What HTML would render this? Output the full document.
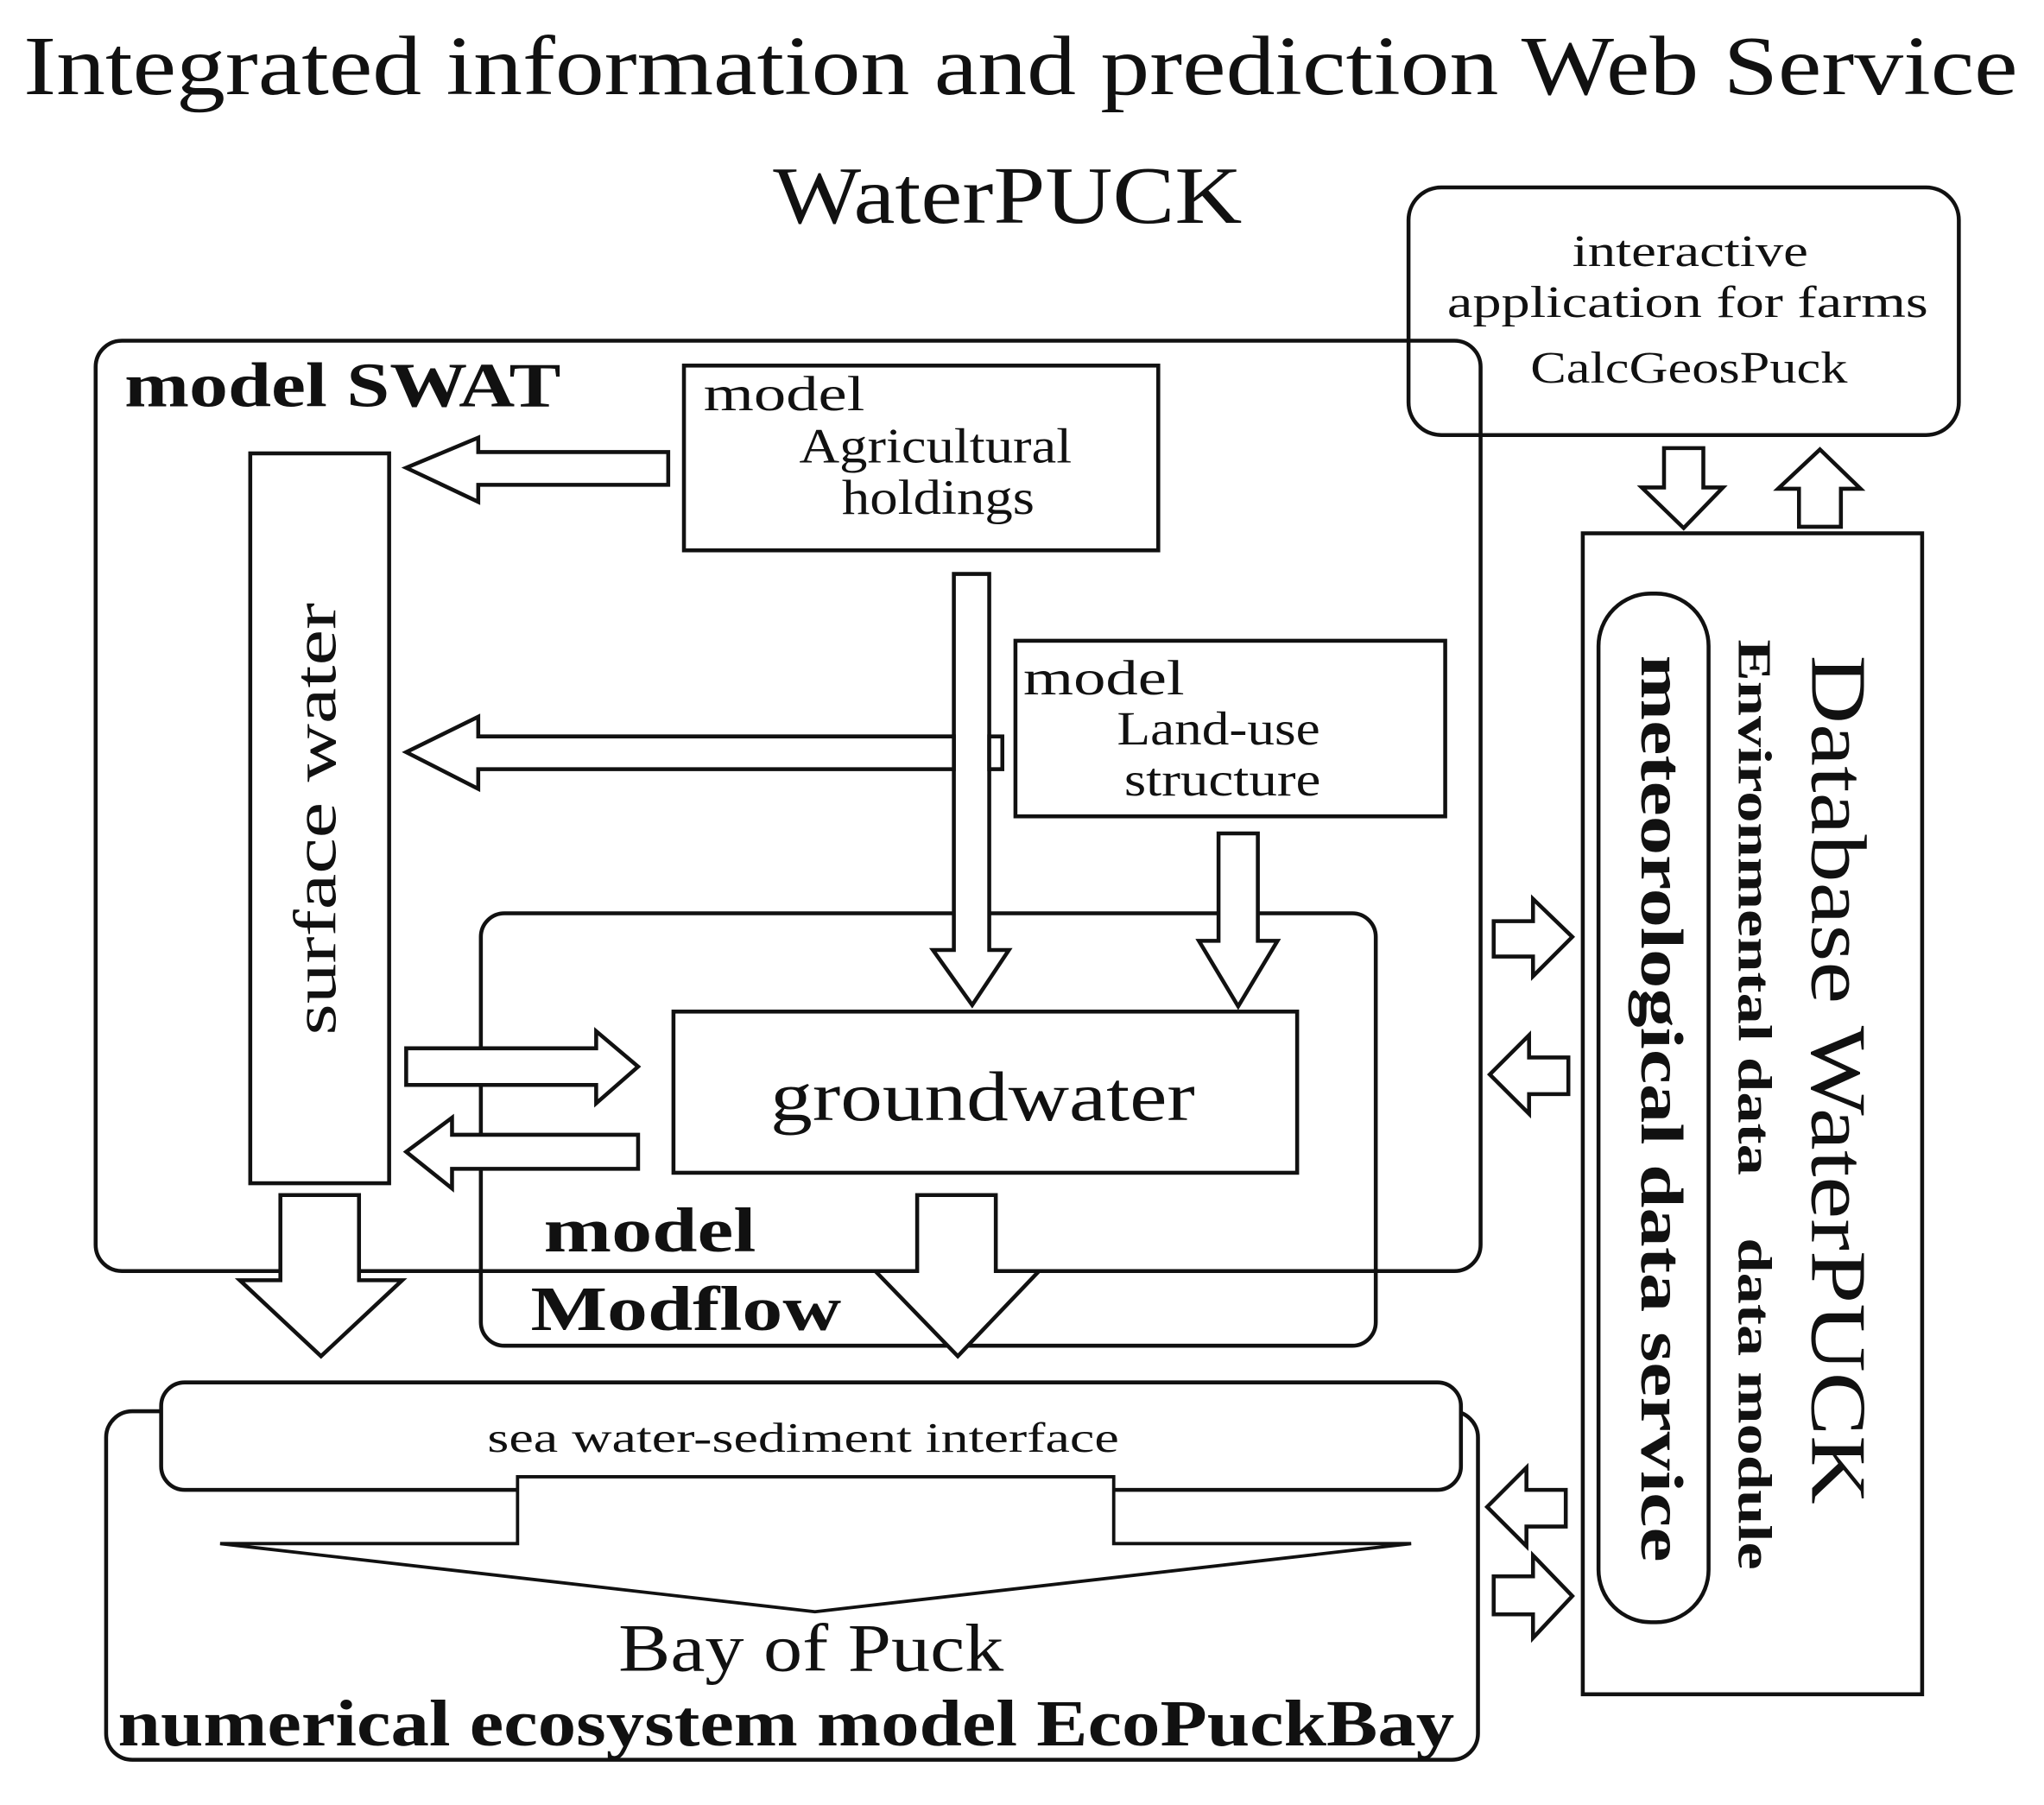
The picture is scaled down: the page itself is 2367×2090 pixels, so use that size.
<!DOCTYPE html>
<html><head><meta charset="utf-8"><style>
html,body{margin:0;padding:0;background:#fff}
svg{display:block}
text{font-family:"Liberation Serif",serif;fill:#111}
</style></head><body>
<svg width="2367" height="2090" viewBox="0 0 1560 1377.5" preserveAspectRatio="none" xmlns="http://www.w3.org/2000/svg">
<g fill="#fff" stroke="#111" stroke-width="3" stroke-linejoin="miter">
<rect x="73" y="260" width="1057" height="710" rx="20"/>
<rect x="1075" y="143" width="420" height="189" rx="25" fill="none"/>
<rect x="522" y="279" width="362" height="141"/>
<rect x="191" y="346" width="106" height="557"/>
<rect x="775" y="489" width="328" height="134"/>
<rect x="367" y="697" width="683" height="330" rx="18" fill="none"/>
<rect x="514" y="772" width="476" height="123"/>
<rect x="81" y="1077" width="1047" height="266" rx="20"/>
<rect x="123" y="1055" width="992" height="82" rx="18"/>
<rect x="1208" y="407" width="259" height="886"/>
<rect x="1220" y="453" width="84" height="785" rx="40"/>
<polygon points="510,345 365,345 365,334 310,357 365,383 365,370 510,370"/>
<polygon points="728,438 755,438 755,725 770,725 742,767 712,725 728,725"/>
<rect x="755" y="562" width="10" height="25"/>
<polygon points="728,562 365,562 365,547 310,574 365,602 365,587 728,587"/>
<polygon points="930,636 960,636 960,718 975,718 945,768 915,718 930,718"/>
<polygon points="310,800 455,800 455,787 487,814 455,842 455,828 310,828"/>
<polygon points="487,866 345,866 345,853 310,879 345,907 345,892 487,892"/>
<polygon points="214,912 274,912 274,977 307,977 245,1035 183,977 214,977"/>
<polygon points="700,912 760,912 760,970 793,970 731,1035 668,970 700,970"/>
<polygon points="395,1127 850,1127 850,1178 1077,1178 622,1230 168,1178 395,1178" stroke-width="2.5"/>
<polygon points="1270,342 1300,342 1300,372 1315,372 1285,403 1253,372 1270,372"/>
<polygon points="1373,402 1405,402 1405,373 1420,373 1389,343 1357,373 1373,373"/>
<polygon points="1140,703 1170,703 1170,686 1200,715 1170,745 1170,730 1140,730"/>
<polygon points="1197,807 1167,807 1167,790 1137,820 1167,850 1167,835 1197,835"/>
<polygon points="1195,1137 1165,1137 1165,1120 1135,1150 1165,1180 1165,1165 1195,1165"/>
<polygon points="1140,1203 1170,1203 1170,1187 1200,1218 1170,1250 1170,1232 1140,1232"/>
</g>
<g lengthAdjust="spacingAndGlyphs">
<text x="779" y="72" font-size="64" text-anchor="middle" textLength="1522" lengthAdjust="spacingAndGlyphs">Integrated information and prediction Web Service</text>
<text x="769" y="170" font-size="62" text-anchor="middle" textLength="358" lengthAdjust="spacingAndGlyphs">WaterPUCK</text>
<text x="1290" y="203" font-size="34" text-anchor="middle" textLength="180" lengthAdjust="spacingAndGlyphs">interactive</text>
<text x="1288" y="242" font-size="34" text-anchor="middle" textLength="367" lengthAdjust="spacingAndGlyphs">application for farms</text>
<text x="1289" y="292" font-size="34" text-anchor="middle" textLength="242" lengthAdjust="spacingAndGlyphs">CalcGeosPuck</text>
<text x="95" y="310" font-size="48" font-weight="bold" textLength="333" lengthAdjust="spacingAndGlyphs">model SWAT</text>
<text x="537" y="313" font-size="38" textLength="123" lengthAdjust="spacingAndGlyphs">model</text>
<text x="714" y="353" font-size="38" text-anchor="middle" textLength="208" lengthAdjust="spacingAndGlyphs">Agricultural</text>
<text x="716" y="392" font-size="38" text-anchor="middle" textLength="147" lengthAdjust="spacingAndGlyphs">holdings</text>
<text x="781" y="530" font-size="38" textLength="123" lengthAdjust="spacingAndGlyphs">model</text>
<text x="930" y="568" font-size="36" text-anchor="middle" textLength="155" lengthAdjust="spacingAndGlyphs">Land-use</text>
<text x="933" y="607" font-size="36" text-anchor="middle" textLength="150" lengthAdjust="spacingAndGlyphs">structure</text>
<text transform="translate(256,625) rotate(-90)" font-size="46" text-anchor="middle" textLength="330" lengthAdjust="spacingAndGlyphs">surface water</text>
<text x="750" y="855" font-size="54" text-anchor="middle" textLength="324" lengthAdjust="spacingAndGlyphs">groundwater</text>
<text x="415" y="955" font-size="48" font-weight="bold" textLength="162" lengthAdjust="spacingAndGlyphs">model</text>
<text x="405" y="1015" font-size="48" font-weight="bold" textLength="237" lengthAdjust="spacingAndGlyphs">Modflow</text>
<text x="613" y="1108" font-size="32" text-anchor="middle" textLength="482" lengthAdjust="spacingAndGlyphs">sea water-sediment interface</text>
<text x="619" y="1275" font-size="52" text-anchor="middle" textLength="294" lengthAdjust="spacingAndGlyphs">Bay of Puck</text>
<text x="600" y="1332" font-size="50" font-weight="bold" text-anchor="middle" textLength="1020" lengthAdjust="spacingAndGlyphs">numerical ecosystem model EcoPuckBay</text>
<text transform="translate(1383,824) rotate(90)" font-size="60" text-anchor="middle" textLength="648" lengthAdjust="spacingAndGlyphs">Database WaterPUCK</text>
<text transform="translate(1253,846) rotate(90)" font-size="46" font-weight="bold" text-anchor="middle" textLength="692" lengthAdjust="spacingAndGlyphs">meteorological data service</text>
<text transform="translate(1327,843) rotate(90)" font-size="36" font-weight="bold" text-anchor="middle" xml:space="preserve" textLength="710" lengthAdjust="spacingAndGlyphs">Environmental data    data module</text>
</g>
</svg>
</body></html>
